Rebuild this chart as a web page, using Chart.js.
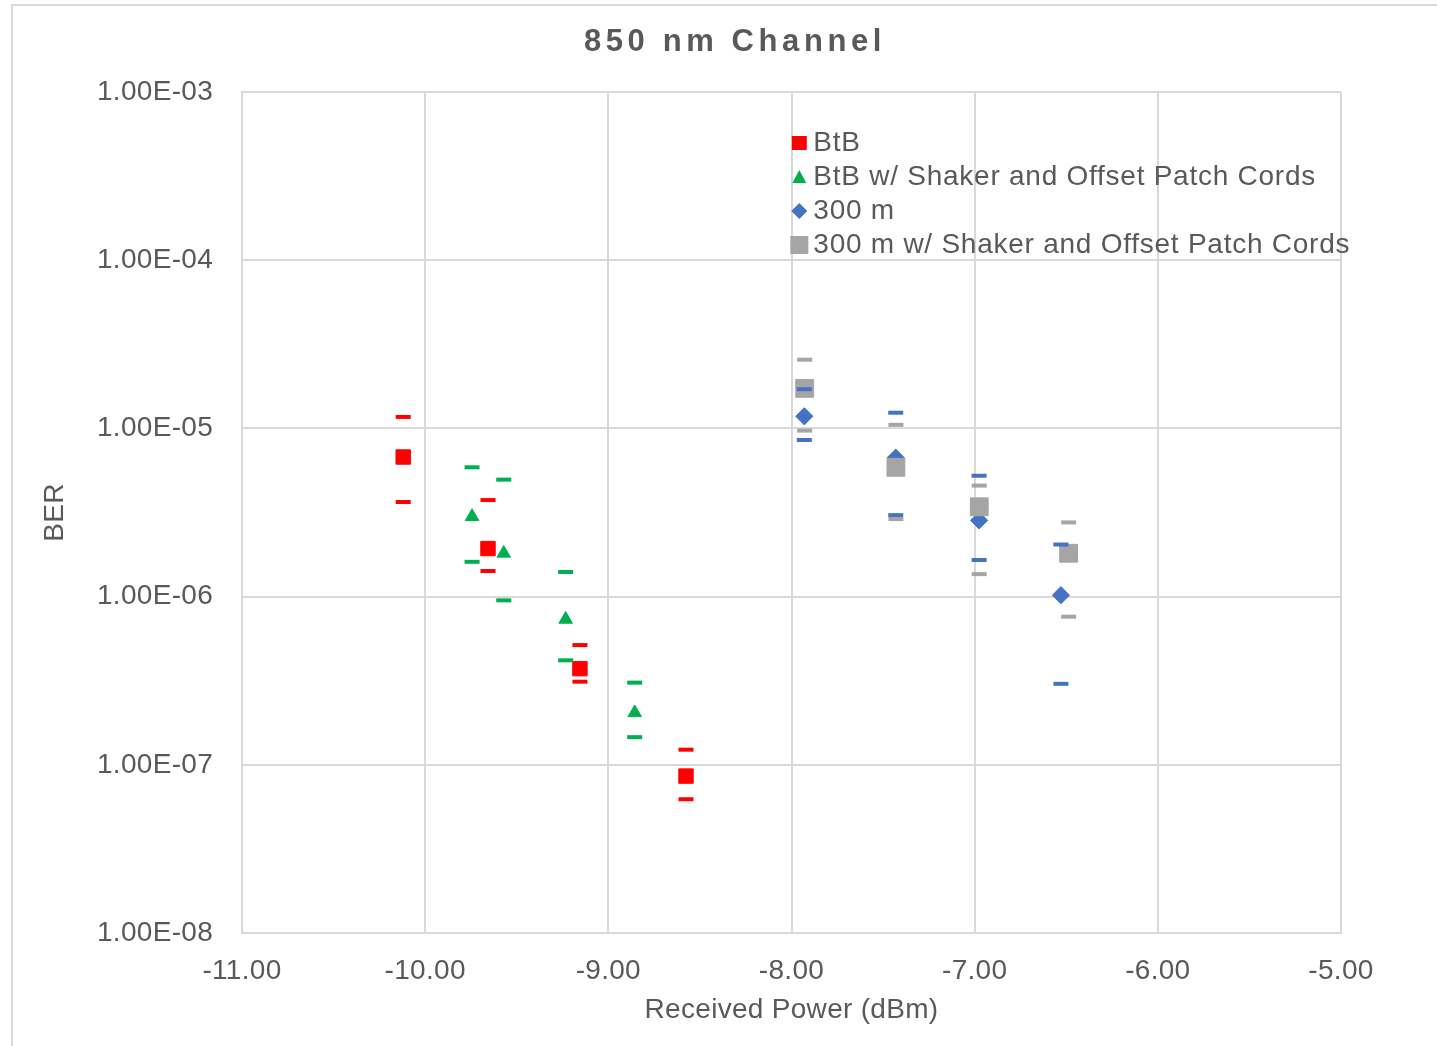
<!DOCTYPE html>
<html>
<head>
<meta charset="utf-8">
<title>850 nm Channel</title>
<script src="https://cdn.jsdelivr.net/npm/chart.js@4.4.1/dist/chart.umd.min.js"></script>
<style>
  html, body { margin: 0; padding: 0; background: #ffffff; overflow: hidden; }
  #wrap { width: 1437px; height: 1046px; position: relative; }
  canvas { display: block; }
</style>
</head>
<body>
<div id="wrap"><canvas id="chart" width="1437" height="1046"></canvas></div>
<script>
// Axis ticks
const xTicks = [-11, -10, -9, -8, -7, -6, -5];
const yTicks = [1e-8, 1e-7, 1e-6, 1e-5, 1e-4, 1e-3];

// Series names
const seriesNames = [
  'BtB',
  'BtB w/ Shaker and Offset Patch Cords',
  '300 m',
  '300 m w/ Shaker and Offset Patch Cords'
];

// BtB
const btbPower = [-10.12, -9.657, -9.155, -8.576];
const btbBer   = [6.76e-6, 1.93e-6, 3.73e-7, 8.57e-8];
const btbHigh  = [1.17e-5, 3.75e-6, 5.15e-7, 1.23e-7];
const btbLow   = [3.65e-6, 1.42e-6, 3.12e-7, 6.24e-8];

// BtB w/ shaker and offset patch cords
const btbShakePower = [-9.744, -9.571, -9.233, -8.856];
const btbShakeBer   = [2.99e-6, 1.81e-6, 7.33e-7, 2.04e-7];
const btbShakeHigh  = [5.87e-6, 4.96e-6, 1.40e-6, 3.08e-7];
const btbShakeLow   = [1.61e-6, 9.50e-7, 4.18e-7, 1.46e-7];

// 300 m
const m300Power = [-7.930, -7.431, -6.976, -6.529];
const m300Ber   = [1.18e-5, 6.70e-6, 2.84e-6, 1.02e-6];
const m300High  = [1.71e-5, 1.24e-5, 5.23e-6, 2.04e-6];
const m300Low   = [8.53e-6, 3.05e-6, 1.65e-6, 3.03e-7];

// 300 m w/ shaker and offset patch cords
const m300ShakePower = [-7.928, -7.430, -6.975, -6.487];
const m300ShakeBer   = [1.73e-5, 5.87e-6, 3.42e-6, 1.81e-6];
const m300ShakeHigh  = [2.56e-5, 1.05e-5, 4.57e-6, 2.76e-6];
const m300ShakeLow   = [9.70e-6, 2.89e-6, 1.36e-6, 7.60e-7];

// Styling
const RED = '#FF0000', GREEN = '#00B050', BLUE = '#4472C4', GRAY = '#A5A5A5';
const TEXT = '#595959', GRID = '#D9D9D9';
const FONT = '"Liberation Sans", Arial, sans-serif';
const SPACING = '0.3px';

function points(xs, ys) {
  return xs.map((x, i) => ({ x: x, y: ys[i] }));
}
function caps(xs, hi, lo) {
  return points(xs, hi).concat(points(xs, lo));
}
function sci(v) {
  const e = Math.round(Math.log10(v));
  const m = v / Math.pow(10, e);
  return m.toFixed(2) + 'E' + (e < 0 ? '-' : '+') + String(Math.abs(e)).padStart(2, '0');
}

function markerSet(label, xs, ys, color, style, radius, order) {
  return {
    label: label, data: points(xs, ys), order: order,
    pointStyle: style, pointRadius: radius, pointHoverRadius: radius,
    backgroundColor: color, borderColor: color, borderWidth: 1, showLine: false
  };
}
function capSet(label, xs, hi, lo, color, order) {
  return {
    label: label, data: caps(xs, hi, lo), order: order,
    pointStyle: 'line', pointRadius: 7.5, pointHoverRadius: 7.5,
    backgroundColor: color, borderColor: color, borderWidth: 4, showLine: false
  };
}

const datasets = [
  markerSet(seriesNames[0], btbPower, btbBer, RED, 'rect', 10.2, 7),
  markerSet(seriesNames[1], btbShakePower, btbShakeBer, GREEN, 'triangle', 7.8, 6),
  markerSet(seriesNames[2], m300Power, m300Ber, BLUE, 'rectRot', 8.6, 5),
  markerSet(seriesNames[3], m300ShakePower, m300ShakeBer, GRAY, 'rect', 12.6, 4),
  capSet(seriesNames[0] + ' range', btbPower, btbHigh, btbLow, RED, 3),
  capSet(seriesNames[1] + ' range', btbShakePower, btbShakeHigh, btbShakeLow, GREEN, 2),
  capSet(seriesNames[3] + ' range', m300ShakePower, m300ShakeHigh, m300ShakeLow, GRAY, 1),
  capSet(seriesNames[2] + ' range', m300Power, m300High, m300Low, BLUE, 0)
];

// Slight glyph spacing for axis text
const spacingPlugin = {
  id: 'spacing',
  beforeUpdate(chart) { chart.ctx.letterSpacing = SPACING; },
  beforeDraw(chart) { chart.ctx.letterSpacing = SPACING; }
};

// Outer frame, title and in-plot legend
const decorPlugin = {
  id: 'decor',
  beforeDraw(chart) {
    const ctx = chart.ctx;
    ctx.save();
    ctx.strokeStyle = GRID;
    ctx.lineWidth = 2;
    ctx.strokeRect(12, 5, chart.width + 40, chart.height + 40);
    ctx.restore();
  },
  afterDraw(chart) {
    const ctx = chart.ctx;
    ctx.save();
    ctx.fillStyle = TEXT;
    ctx.font = 'bold 31px ' + FONT;
    ctx.letterSpacing = '4.6px';
    ctx.textAlign = 'center';
    ctx.textBaseline = 'middle';
    ctx.fillText('850 nm Channel', 735, 42);
    ctx.restore();

    const area = chart.chartArea;
    const mx = area.left + (area.right - area.left) * 0.5071;
    const tx = mx + 14;
    const rows = [143, 177, 211, 245];
    const colors = [RED, GREEN, BLUE, GRAY];
    ctx.save();
    ctx.letterSpacing = '0.75px';
    ctx.font = '28px ' + FONT;
    ctx.textAlign = 'left';
    ctx.textBaseline = 'middle';
    rows.forEach((y, i) => {
      ctx.fillStyle = colors[i];
      ctx.beginPath();
      if (i === 0) {
        ctx.rect(mx - 7.5, y - 7, 15, 14);
      } else if (i === 1) {
        ctx.moveTo(mx, y - 7);
        ctx.lineTo(mx + 7, y + 6);
        ctx.lineTo(mx - 7, y + 6);
        ctx.closePath();
      } else if (i === 2) {
        ctx.moveTo(mx, y - 8);
        ctx.lineTo(mx + 8, y);
        ctx.lineTo(mx, y + 8);
        ctx.lineTo(mx - 8, y);
        ctx.closePath();
      } else {
        ctx.rect(mx - 9, y - 9, 18, 18);
      }
      ctx.fill();
      ctx.fillStyle = TEXT;
      ctx.fillText(seriesNames[i], tx, y);
    });
    ctx.restore();
  }
};

new Chart(document.getElementById('chart'), {
  type: 'scatter',
  data: { datasets: datasets },
  plugins: [spacingPlugin, decorPlugin],
  options: {
    responsive: false,
    animation: false,
    events: [],
    layout: { padding: { left: 0, right: 96, top: 92, bottom: 0 } },
    plugins: {
      legend: { display: false },
      title: { display: false },
      tooltip: { enabled: false }
    },
    scales: {
      x: {
        type: 'linear',
        min: xTicks[0],
        max: xTicks[xTicks.length - 1],
        afterBuildTicks(scale) { scale.ticks = xTicks.map(v => ({ value: v })); },
        afterFit(scale) { scale.height = 113; },
        grid: { color: GRID, lineWidth: 2, drawTicks: false },
        border: { color: GRID, width: 2 },
        ticks: {
          padding: 21,
          color: TEXT,
          font: { family: FONT, size: 28 },
          callback: v => Number(v).toFixed(2)
        },
        title: {
          display: true,
          text: 'Received Power (dBm)',
          color: TEXT,
          font: { family: FONT, size: 28 },
          padding: { top: 0, bottom: 19 }
        }
      },
      y: {
        type: 'logarithmic',
        min: yTicks[0],
        max: yTicks[yTicks.length - 1],
        afterBuildTicks(scale) { scale.ticks = yTicks.map(v => ({ value: v })); },
        afterFit(scale) { scale.width = 242; },
        grid: { color: GRID, lineWidth: 2, drawTicks: false },
        border: { color: GRID, width: 2 },
        ticks: {
          padding: 29,
          color: TEXT,
          font: { family: FONT, size: 28 },
          callback: v => sci(v)
        },
        title: {
          display: true,
          text: 'BER',
          color: TEXT,
          font: { family: FONT, size: 28 },
          padding: { top: 38, bottom: 0 }
        }
      }
    }
  }
});
</script>
</body>
</html>
